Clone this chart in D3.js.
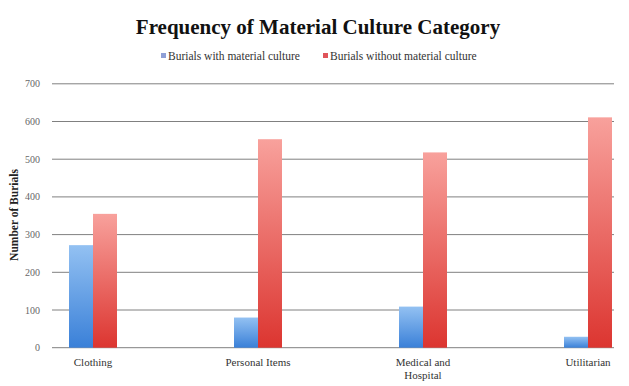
<!DOCTYPE html>
<html><head><meta charset="utf-8">
<script src="https://cdn.jsdelivr.net/npm/d3@7"></script>
<style>body{margin:0;background:#fff;}svg{display:block;}</style>
</head><body>
<script>
const categories = ["Clothing", "Personal Items", "Medical and\nHospital", "Utilitarian"];
const seriesNames = ["Burials with material culture", "Burials without material culture"];
const withCulture = [272, 80, 109, 29];
const withoutCulture = [355, 553, 518, 611];
const yTicks = [0, 100, 200, 300, 400, 500, 600, 700];

const W = 629, H = 386;
const svg = d3.select("body").append("svg").attr("width", W).attr("height", H);
const font = "'Liberation Serif', 'DejaVu Serif', serif";

const defs = svg.append("defs");
function grad(id, top, bottom) {
  const g = defs.append("linearGradient").attr("id", id).attr("x1", 0).attr("y1", 0).attr("x2", 0).attr("y2", 1);
  g.append("stop").attr("offset", "0%").attr("stop-color", top);
  g.append("stop").attr("offset", "100%").attr("stop-color", bottom);
}
grad("gBlue", "#93c1f2", "#3a80d8");
grad("gRed", "#f8a19c", "#dc3530");

const y = d3.scaleLinear().domain([0, 700]).range([347.7, 83.8]);
const x = d3.scalePoint().domain(categories).range([93, 588]);
const gridLeft = 52, gridRight = 614;
const barW = 24;

// gridlines
svg.append("g").selectAll("line").data(yTicks).join("line")
  .attr("x1", gridLeft).attr("x2", gridRight)
  .attr("y1", d => y(d)).attr("y2", d => y(d))
  .attr("stroke", "#808080").attr("stroke-width", 1);

// y tick labels
svg.append("g").selectAll("text").data(yTicks).join("text")
  .attr("x", 40).attr("y", d => y(d) + 3.5)
  .attr("text-anchor", "end").attr("font-family", font).attr("font-size", 10)
  .attr("fill", "#666").text(d => d);

// bars
const bars = svg.append("g");
bars.selectAll("rect.b").data(withCulture).join("rect").attr("class", "b")
  .attr("x", (d, i) => x(categories[i]) - barW).attr("width", barW)
  .attr("y", d => y(d)).attr("height", d => y(0) - y(d))
  .attr("fill", "url(#gBlue)");
bars.selectAll("rect.r").data(withoutCulture).join("rect").attr("class", "r")
  .attr("x", (d, i) => x(categories[i])).attr("width", barW)
  .attr("y", d => y(d)).attr("height", d => y(0) - y(d))
  .attr("fill", "url(#gRed)");

// x labels
const xl = svg.append("g").selectAll("text").data(categories).join("text")
  .attr("x", d => x(d)).attr("y", 366)
  .attr("text-anchor", "middle").attr("font-family", font).attr("font-size", 11)
  .attr("fill", "#333");
xl.each(function(d) {
  const lines = d.split("\n");
  d3.select(this).selectAll("tspan").data(lines).join("tspan")
    .attr("x", x(d)).attr("dy", (l, i) => i === 0 ? 0 : 13).text(l => l);
});

// y axis title
svg.append("text")
  .attr("transform", "translate(18,215) rotate(-90)")
  .attr("text-anchor", "middle").attr("font-family", font).attr("font-size", 11.5)
  .attr("font-weight", "bold").attr("fill", "#222").text("Number of Burials");

// title
svg.append("text").attr("x", 318).attr("y", 34)
  .attr("text-anchor", "middle").attr("font-family", font).attr("font-size", 21)
  .attr("font-weight", "bold").attr("fill", "#111")
  .text("Frequency of Material Culture Category");

// legend
const legX = [161, 323];
const legColors = ["#8e9fd6", "#e0545a"];
const leg = svg.append("g").selectAll("g").data(seriesNames).join("g")
  .attr("transform", (d, i) => `translate(${legX[i]},60)`);
leg.append("rect").attr("x", 0).attr("y", -7).attr("width", 5).attr("height", 5)
  .attr("fill", (d, i) => legColors[i]);
leg.append("text").attr("x", 7).attr("y", 0).attr("font-family", font).attr("font-size", 11.5)
  .attr("fill", "#333").text(d => d);
</script>
</body></html>
